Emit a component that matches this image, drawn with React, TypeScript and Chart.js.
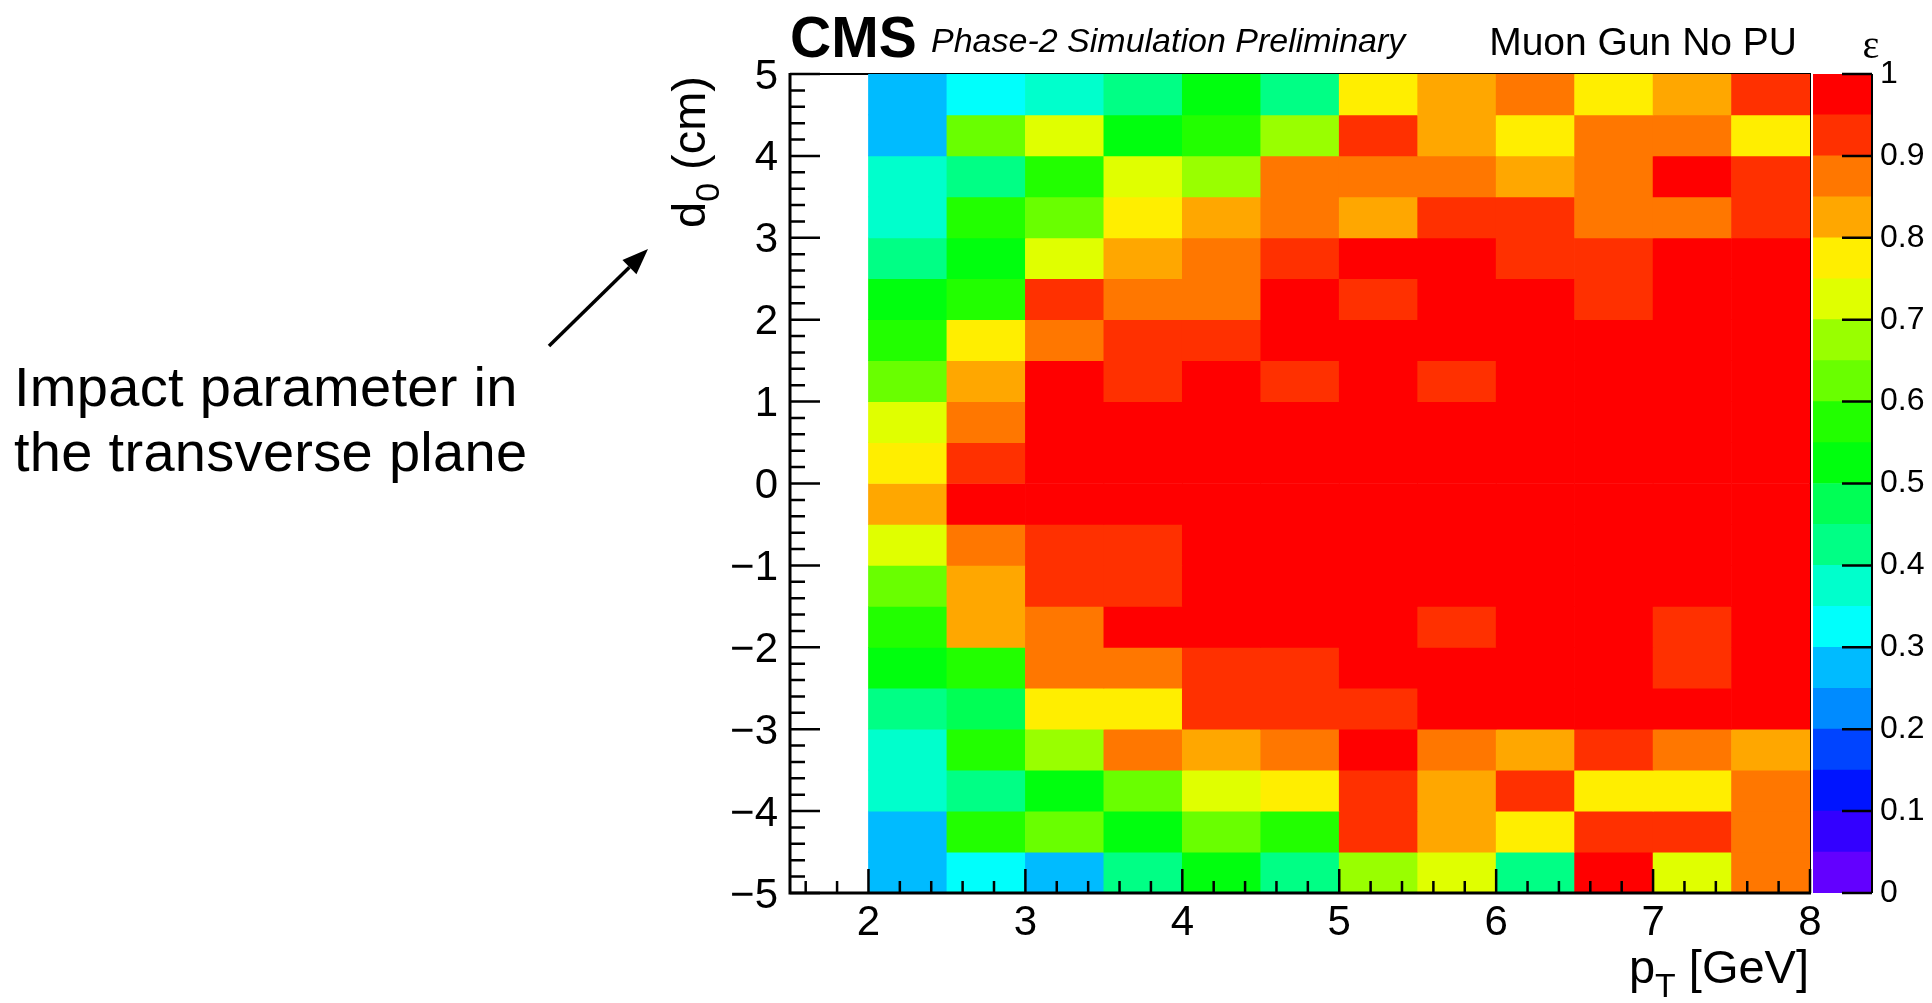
import React, { useEffect, useRef } from "react";
import { Chart, registerables } from "chart.js";

Chart.register(...registerables);

// ---------------- data ----------------
// pT bins: lower edges in GeV (bin width 0.5)
const PT_BIN_LOW = [2.0, 2.5, 3.0, 3.5, 4.0, 4.5, 5.0, 5.5, 6.0, 6.5, 7.0, 7.5];
const PT_BIN_WIDTH = 0.5;
// d0 bins: lower edges in cm, listed from the top row to the bottom row (bin width 0.5)
const D0_BIN_LOW = [4.5, 4.0, 3.5, 3.0, 2.5, 2.0, 1.5, 1.0, 0.5, 0.0, -0.5, -1.0, -1.5, -2.0, -2.5, -3.0, -3.5, -4.0, -4.5, -5.0];
const D0_BIN_WIDTH = 0.5;
// efficiency epsilon per cell: one row per d0 bin (same order as D0_BIN_LOW), one value per pT bin
const EFFICIENCY = [
  [0.27, 0.32, 0.37, 0.42, 0.52, 0.42, 0.77, 0.82, 0.87, 0.77, 0.82, 0.92], // 4.5..5
  [0.27, 0.62, 0.72, 0.52, 0.57, 0.67, 0.92, 0.82, 0.77, 0.87, 0.87, 0.77], // 4..4.5
  [0.37, 0.42, 0.57, 0.72, 0.67, 0.87, 0.87, 0.87, 0.82, 0.87, 0.97, 0.92], // 3.5..4
  [0.37, 0.57, 0.62, 0.77, 0.82, 0.87, 0.82, 0.92, 0.92, 0.87, 0.87, 0.92], // 3..3.5
  [0.42, 0.52, 0.72, 0.82, 0.87, 0.92, 0.97, 0.97, 0.92, 0.92, 0.97, 0.97], // 2.5..3
  [0.52, 0.57, 0.92, 0.87, 0.87, 0.97, 0.92, 0.97, 0.97, 0.92, 0.97, 0.97], // 2..2.5
  [0.57, 0.77, 0.87, 0.92, 0.92, 0.97, 0.97, 0.97, 0.97, 0.97, 0.97, 0.97], // 1.5..2
  [0.62, 0.82, 0.97, 0.92, 0.97, 0.92, 0.97, 0.92, 0.97, 0.97, 0.97, 0.97], // 1..1.5
  [0.72, 0.87, 0.97, 0.97, 0.97, 0.97, 0.97, 0.97, 0.97, 0.97, 0.97, 0.97], // 0.5..1
  [0.77, 0.92, 0.97, 0.97, 0.97, 0.97, 0.97, 0.97, 0.97, 0.97, 0.97, 0.97], // 0..0.5
  [0.82, 0.97, 0.97, 0.97, 0.97, 0.97, 0.97, 0.97, 0.97, 0.97, 0.97, 0.97], // -0.5..0
  [0.72, 0.87, 0.92, 0.92, 0.97, 0.97, 0.97, 0.97, 0.97, 0.97, 0.97, 0.97], // -1..-0.5
  [0.62, 0.82, 0.92, 0.92, 0.97, 0.97, 0.97, 0.97, 0.97, 0.97, 0.97, 0.97], // -1.5..-1
  [0.57, 0.82, 0.87, 0.97, 0.97, 0.97, 0.97, 0.92, 0.97, 0.97, 0.92, 0.97], // -2..-1.5
  [0.52, 0.57, 0.87, 0.87, 0.92, 0.92, 0.97, 0.97, 0.97, 0.97, 0.92, 0.97], // -2.5..-2
  [0.42, 0.47, 0.77, 0.77, 0.92, 0.92, 0.92, 0.97, 0.97, 0.97, 0.97, 0.97], // -3..-2.5
  [0.37, 0.57, 0.67, 0.87, 0.82, 0.87, 0.97, 0.87, 0.82, 0.92, 0.87, 0.82], // -3.5..-3
  [0.37, 0.42, 0.52, 0.62, 0.72, 0.77, 0.92, 0.82, 0.92, 0.77, 0.77, 0.87], // -4..-3.5
  [0.27, 0.57, 0.62, 0.52, 0.62, 0.57, 0.92, 0.82, 0.77, 0.92, 0.92, 0.87], // -4.5..-4
  [0.27, 0.32, 0.27, 0.42, 0.52, 0.42, 0.67, 0.72, 0.42, 0.97, 0.72, 0.87], // -5..-4.5
];

// axes
const X_MIN = 1.5;
const X_MAX = 8;
const Y_MIN = -5;
const Y_MAX = 5;
const X_TICKS = [2, 3, 4, 5, 6, 7, 8];
const Y_TICKS = [-5, -4, -3, -2, -1, 0, 1, 2, 3, 4, 5];
// colour scale (20 contours) and its tick labels
const Z_LEVELS = [0, 0.05, 0.1, 0.15, 0.2, 0.25, 0.3, 0.35, 0.4, 0.45, 0.5, 0.55, 0.6, 0.65, 0.7, 0.75, 0.8, 0.85, 0.9, 0.95, 1.0];
const Z_TICKS = [0, 0.1, 0.2, 0.3, 0.4, 0.5, 0.6, 0.7, 0.8, 0.9, 1.0];

// text
const HEADER_BOLD = "CMS";
const HEADER_ITALIC = "Phase-2 Simulation Preliminary";
const HEADER_RIGHT = "Muon Gun No PU";
const Z_TITLE = "\u03b5";
const NOTE_LINES = ["Impact parameter in", "the transverse plane"];

// ---------------- styling helpers ----------------
const FONT = "'Liberation Sans', Arial, Helvetica, sans-serif";

function levelIndex(v: number): number {
  for (let k = Z_LEVELS.length - 2; k >= 0; k--) if (v >= Z_LEVELS[k]) return k;
  return 0;
}
// ROOT legacy "pretty" palette (hue 280 -> 0, 50 colours) sampled for the contours
function levelColor(k: number): string {
  const nColors = 50;
  const nLevels = Z_LEVELS.length - 1;
  const p = Math.floor(((k + 0.99) * nColors) / nLevels);
  const hue = p >= nColors - 1 ? 0 : 280 - (p + 1) * 5.6;
  return `hsl(${hue.toFixed(1)}, 100%, 50%)`;
}

function minorTicks(lo: number, hi: number, step: number, major: number[]): number[] {
  const out: number[] = [];
  const n = Math.round((hi - lo) / step);
  for (let i = 0; i <= n; i++) {
    const v = Math.round((lo + i * step) * 1000) / 1000;
    if (!major.some((m) => Math.abs(m - v) < 1e-6)) out.push(v);
  }
  return out;
}

type Seg = { t: string; sub?: boolean };
function drawRich(ctx: CanvasRenderingContext2D, segs: Seg[], x: number, y: number, size: number, align: "left" | "right") {
  const subSize = size * 0.72;
  const subDy = size * 0.3;
  const widths = segs.map((s) => {
    ctx.font = `${s.sub ? subSize : size}px ${FONT}`;
    return ctx.measureText(s.t).width;
  });
  const total = widths.reduce((a, b) => a + b, 0);
  let cx = align === "right" ? x - total : x;
  ctx.textAlign = "left";
  ctx.textBaseline = "alphabetic";
  segs.forEach((s, i) => {
    ctx.font = `${s.sub ? subSize : size}px ${FONT}`;
    ctx.fillText(s.t, cx, y + (s.sub ? subDy : 0));
    cx += widths[i];
  });
}

const X_MINOR = minorTicks(1.6, 7.8, 0.2, X_TICKS);
const Y_MINOR = minorTicks(-4.8, 4.8, 0.2, Y_TICKS);

const rootFramePlugin = {
  id: "rootFrame",
  beforeDatasetsDraw(chart: any) {
    const { ctx, chartArea: a } = chart;
    ctx.save();
    ctx.strokeStyle = "#000";
    ctx.lineWidth = 2;
    ctx.strokeRect(a.left, a.top, a.right - a.left, a.bottom - a.top);
    ctx.restore();
  },
  afterDatasetsDraw(chart: any) {
    const { ctx, chartArea: a, scales } = chart;
    const xs = scales.x;
    const ys = scales.y;
    ctx.save();
    ctx.strokeStyle = "#000";
    ctx.lineWidth = 3;
    ctx.beginPath();
    ctx.moveTo(a.left, a.top - 1);
    ctx.lineTo(a.left, a.bottom);
    ctx.lineTo(a.right + 1, a.bottom);
    ctx.stroke();
    ctx.lineWidth = 2.5;
    ctx.beginPath();
    for (const v of X_TICKS) {
      const px = xs.getPixelForValue(v);
      ctx.moveTo(px, a.bottom);
      ctx.lineTo(px, a.bottom - 24);
    }
    for (const v of X_MINOR) {
      const px = xs.getPixelForValue(v);
      ctx.moveTo(px, a.bottom);
      ctx.lineTo(px, a.bottom - 12);
    }
    for (const v of Y_TICKS) {
      const py = ys.getPixelForValue(v);
      ctx.moveTo(a.left, py);
      ctx.lineTo(a.left + 30, py);
    }
    for (const v of Y_MINOR) {
      const py = ys.getPixelForValue(v);
      ctx.moveTo(a.left, py);
      ctx.lineTo(a.left + 15, py);
    }
    ctx.stroke();
    ctx.restore();
  },
  afterDraw(chart: any) {
    const { ctx, chartArea: a } = chart;
    ctx.save();
    ctx.fillStyle = "#000";
    ctx.textBaseline = "alphabetic";
    // header
    ctx.textAlign = "left";
    ctx.font = `bold 57px ${FONT}`;
    ctx.fillText(HEADER_BOLD, a.left, 57);
    ctx.font = `italic 34px ${FONT}`;
    ctx.fillText(HEADER_ITALIC, 931, 52);
    ctx.textAlign = "right";
    ctx.font = `39px ${FONT}`;
    ctx.fillText(HEADER_RIGHT, 1797, 55);
    // x title
    drawRich(ctx, [{ t: "p" }, { t: "T", sub: true }, { t: " [GeV]" }], a.right - 1, 983, 47, "right");
    // y title (rotated)
    ctx.save();
    ctx.translate(705, a.top + 2);
    ctx.rotate(-Math.PI / 2);
    drawRich(ctx, [{ t: "d" }, { t: "0", sub: true }, { t: " (cm)" }], 0, 0, 47, "right");
    ctx.restore();
    // annotation
    ctx.textAlign = "left";
    ctx.font = `56px ${FONT}`;
    (ctx as any).letterSpacing = "0.3px";
    ctx.fillText(NOTE_LINES[0], 14, 406);
    ctx.fillText(NOTE_LINES[1], 14, 471);
    (ctx as any).letterSpacing = "0px";
    // arrow
    const x0 = 549, y0 = 346, x1 = 648, y1 = 249;
    const ang = Math.atan2(y1 - y0, x1 - x0);
    const headLen = 26, headHalf = 10;
    const bx = x1 - headLen * Math.cos(ang);
    const by = y1 - headLen * Math.sin(ang);
    ctx.strokeStyle = "#000";
    ctx.lineWidth = 3.5;
    ctx.beginPath();
    ctx.moveTo(x0, y0);
    ctx.lineTo(bx, by);
    ctx.stroke();
    ctx.beginPath();
    ctx.moveTo(x1, y1);
    ctx.lineTo(bx + headHalf * Math.sin(ang), by - headHalf * Math.cos(ang));
    ctx.lineTo(bx - headHalf * Math.sin(ang), by + headHalf * Math.cos(ang));
    ctx.closePath();
    ctx.fill();
    ctx.restore();
  },
};

const colorBarPlugin = {
  id: "colorBarFrame",
  afterDatasetsDraw(chart: any) {
    const { ctx, chartArea: a, scales } = chart;
    const ys = scales.y;
    ctx.save();
    ctx.strokeStyle = "#000";
    ctx.lineWidth = 2;
    ctx.beginPath();
    ctx.moveTo(a.right, a.top);
    ctx.lineTo(a.right, a.bottom);
    ctx.stroke();
    ctx.lineWidth = 2.5;
    ctx.beginPath();
    for (const v of Z_TICKS) {
      const py = ys.getPixelForValue(v);
      ctx.moveTo(a.right, py);
      ctx.lineTo(a.right - 30, py);
    }
    ctx.stroke();
    ctx.fillStyle = "#000";
    ctx.textAlign = "center";
    ctx.textBaseline = "alphabetic";
    ctx.font = `40px 'Liberation Serif', 'DejaVu Serif', serif`;
    ctx.fillText(Z_TITLE, a.right - 1, 58);
    ctx.restore();
  },
};

export default function App() {
  const mainRef = useRef<HTMLCanvasElement>(null);
  const barRef = useRef<HTMLCanvasElement>(null);

  useEffect(() => {
    const datasets = D0_BIN_LOW.map((d0, r) => ({
      label: `d0 ${d0}`,
      data: PT_BIN_LOW.map((pt) => ({ x: pt + PT_BIN_WIDTH / 2, y: [d0, d0 + D0_BIN_WIDTH] })),
      backgroundColor: EFFICIENCY[r].map((v) => levelColor(levelIndex(v))),
      borderWidth: 0,
      barPercentage: 1,
      categoryPercentage: 1,
      grouped: false,
    }));

    const main = new Chart(mainRef.current as HTMLCanvasElement, {
      type: "bar",
      data: { datasets: datasets as any },
      options: {
        animation: false,
        responsive: false,
        devicePixelRatio: 1,
        events: [],
        layout: { padding: { left: 0, right: 122, top: 74, bottom: 0 } },
        plugins: { legend: { display: false }, tooltip: { enabled: false }, title: { display: false } },
        scales: {
          x: {
            type: "linear",
            min: X_MIN,
            max: X_MAX,
            offset: false,
            grid: { display: false, drawTicks: false },
            border: { display: false },
            afterBuildTicks: (axis: any) => {
              axis.ticks = X_TICKS.map((value) => ({ value }));
            },
            afterFit: (s: any) => {
              s.height = 110;
            },
            ticks: {
              autoSkip: false,
              maxRotation: 0,
              padding: 5,
              color: "#000",
              font: { family: FONT, size: 42 },
              callback: (v: any) => `${v}`,
            },
          },
          y: {
            type: "linear",
            min: Y_MIN,
            max: Y_MAX,
            grid: { display: false, drawTicks: false },
            border: { display: false },
            afterBuildTicks: (axis: any) => {
              axis.ticks = Y_TICKS.map((value) => ({ value }));
            },
            afterFit: (s: any) => {
              s.width = 790;
            },
            ticks: {
              autoSkip: false,
              padding: 12,
              labelOffset: 3,
              color: "#000",
              font: { family: FONT, size: 42 },
              callback: (v: any) => (Number(v) < 0 ? `\u2212${Math.abs(Number(v))}` : `${v}`),
            },
          },
        },
      },
      plugins: [rootFramePlugin],
    } as any);

    const barSets = Z_LEVELS.slice(0, -1).map((lo, k) => ({
      label: `level ${k}`,
      data: [[lo, Z_LEVELS[k + 1]]],
      backgroundColor: levelColor(k),
      borderWidth: 0,
      barPercentage: 1,
      categoryPercentage: 1,
      grouped: false,
    }));

    const bar = new Chart(barRef.current as HTMLCanvasElement, {
      type: "bar",
      data: { labels: [""], datasets: barSets as any },
      options: {
        animation: false,
        responsive: false,
        devicePixelRatio: 1,
        events: [],
        layout: { padding: { left: 13, right: 0, top: 74, bottom: 110 } },
        plugins: { legend: { display: false }, tooltip: { enabled: false } },
        scales: {
          x: { type: "category", display: false, offset: true },
          y: {
            type: "linear",
            position: "right",
            min: 0,
            max: 1,
            grid: { display: false, drawTicks: false },
            border: { display: false },
            afterBuildTicks: (axis: any) => {
              axis.ticks = Z_TICKS.map((value) => ({ value }));
            },
            afterFit: (s: any) => {
              s.width = 60;
            },
            ticks: {
              autoSkip: false,
              padding: 8,
              color: "#000",
              font: { family: FONT, size: 32 },
              callback: (v: any) => {
                const n = Number(v);
                return n === 0 ? "0" : n === 1 ? "1" : n.toFixed(1);
              },
            },
          },
        },
      },
      plugins: [colorBarPlugin],
    } as any);

    return () => {
      main.destroy();
      bar.destroy();
    };
  }, []);

  return (
    <div style={{ position: "fixed", left: 0, top: 0, width: 1932, height: 1003, background: "#fff" }}>
      <canvas ref={mainRef} width={1932} height={1003} style={{ position: "absolute", left: 0, top: 0 }} />
      <canvas ref={barRef} width={132} height={1003} style={{ position: "absolute", left: 1800, top: 0 }} />
    </div>
  );
}
